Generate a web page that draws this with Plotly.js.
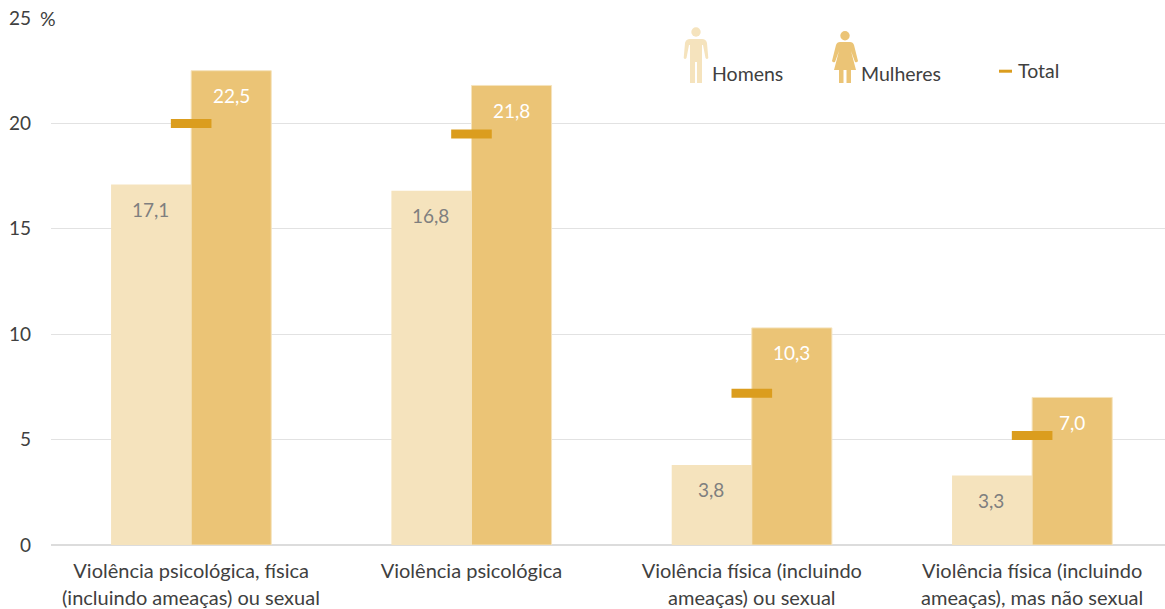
<!DOCTYPE html>
<html>
<head>
<meta charset="utf-8">
<script src="https://cdn.plot.ly/plotly-3.0.1.min.js"></script>
<style>html,body{margin:0;padding:0;background:#fff}#chart{width:1165px;height:609px}</style>
</head>
<body>
<div id="chart"></div>
<script>
const firstLines = ["Violência psicológica, física", "Violência psicológica", "Violência física (incluindo", "Violência física (incluindo"];
const secondLines = ["(incluindo ameaças) ou sexual", "", "ameaças) ou sexual", "ameaças), mas não sexual"];
const homens = [17.1, 16.8, 3.8, 3.3];
const mulheres = [22.5, 21.8, 10.3, 7.0];
const total = [20.0, 19.5, 7.2, 5.2];
const yTicks = [0, 5, 10, 15, 20, 25];
const fmt = v => v.toFixed(1).replace('.', ',');

const W = 1165, H = 609, L = 51, T = 18, B = 64;
const plotW = W - L, plotH = H - T - B;
const px = x => (x - L) / plotW;
const py = y => (H - B - y) / plotH;
const idx = firstLines.map((_, i) => i);
const FONT = 'Lato, Carlito, sans-serif';
const TXT = '#404040';
const C_H = '#f5e3bd', C_M = '#ebc476', C_T = '#db9d1e';

const traces = [
  {type:'bar', name:'Homens', x:idx, y:homens, marker:{color:C_H}, hoverinfo:'y'},
  {type:'bar', name:'Mulheres', x:idx, y:mulheres, marker:{color:C_M, line:{color:C_H, width:1}}, hoverinfo:'y'},
  {type:'scatter', mode:'markers', name:'Total', x:idx, y:total, cliponaxis:false,
   marker:{symbol:'line-ew', size:29, line:{color:C_T, width:9}}, hoverinfo:'y'}
];

const annotations = [];
idx.forEach(i => {
  annotations.push({x:i, y:homens[i], xref:'x', yref:'y', text:fmt(homens[i]), showarrow:false,
    xshift:-41, yshift:-25, font:{family:FONT, size:19, color:'#7f7f7f'}});
  annotations.push({x:i, y:mulheres[i], xref:'x', yref:'y', text:fmt(mulheres[i]), showarrow:false,
    xshift:40, yshift:-25, font:{family:FONT, size:19, color:'#ffffff'}});
  if (secondLines[i]) annotations.push({x:i, y:0, xref:'x', yref:'paper', text:secondLines[i], showarrow:false,
    yanchor:'middle', yshift:-51.5, font:{family:FONT, size:20, color:TXT}});
});
const abs = (text, x, y) => ({x:px(x), y:py(y), xref:'paper', yref:'paper', text, showarrow:false,
  xanchor:'left', yanchor:'middle', font:{family:FONT, size:19.5, color:TXT}});
annotations.push(abs('%', 38, 18));
annotations.push(abs('Homens', 710, 74));
annotations.push(abs('Mulheres', 859, 73));
annotations.push(abs('Total', 1016, 70.5));

const manBody = 'M-6,44 L6,44 Q10,44 11,40 L12.3,25 Q11,23 9.5,25 L7,38 L6,38 L6,0 L1,0 L1,21 L-1,21 L-1,0 L-6,0 L-6,38 L-7,38 L-9.5,25 Q-11,23 -12.3,25 L-11,40 Q-10,44 -6,44 Z';
const womanBody = 'M-5,41 L5,41 Q8,41 9,38 L13,22 Q12,20 10,21 L6,32 L11,13 L6,13 L6,0 L1.5,0 L1.5,13 L-1.5,13 L-1.5,0 L-6,0 L-6,13 L-11,13 L-6,32 L-10,21 Q-12,20 -13,22 L-9,38 Q-8,41 -5,41 Z';
const icon = (path, cx, by, col) => ({type:'path', xref:'paper', yref:'paper', xsizemode:'pixel', ysizemode:'pixel',
  xanchor:px(cx), yanchor:py(by), path, fillcolor:col, line:{width:0}});
const head = (cx, cy, r, col) => ({type:'circle', xref:'paper', yref:'paper', xsizemode:'pixel', ysizemode:'pixel',
  xanchor:px(cx), yanchor:py(cy), x0:-r, x1:r, y0:-r, y1:r, fillcolor:col, line:{width:0}});

const shapes = [
  {type:'rect', xref:'paper', yref:'paper', x0:px(51), x1:px(62), y0:py(16), y1:py(20), fillcolor:'#ffffff', line:{width:0}},
  icon(manBody, 696, 83, C_H), head(696, 32, 4.7, C_H),
  icon(womanBody, 845, 83, C_M), head(845, 35.7, 4.7, C_M),
  {type:'rect', xref:'paper', yref:'paper', x0:px(999), x1:px(1012), y0:py(69.7), y1:py(72.7), fillcolor:C_T, line:{width:0}}
];

const layout = {
  width:W, height:H, margin:{l:L, r:0, t:T, b:B, pad:0},
  paper_bgcolor:'#fff', plot_bgcolor:'#fff', showlegend:false,
  barmode:'group', bargap:0.4286, bargroupgap:0,
  font:{family:FONT, size:18, color:TXT},
  xaxis:{range:[-0.5, 3.474], tickmode:'array', tickvals:idx, ticktext:firstLines, ticks:'',
    showgrid:false, zeroline:false, showline:false, ticklabelstandoff:12,
    tickfont:{family:FONT, size:20, color:TXT}},
  yaxis:{range:[0, 25], tickmode:'array', tickvals:yTicks, ticktext:yTicks.map(String), ticks:'',
    showgrid:true, gridcolor:'#e2e2e2', gridwidth:1.3, zeroline:true, zerolinecolor:'#dcdcdc', zerolinewidth:1.5,
    ticklabelstandoff:19, tickfont:{family:FONT, size:19, color:TXT}},
  annotations, shapes
};
Plotly.newPlot('chart', traces, layout, {displayModeBar:false, responsive:false});
</script>
</body>
</html>
